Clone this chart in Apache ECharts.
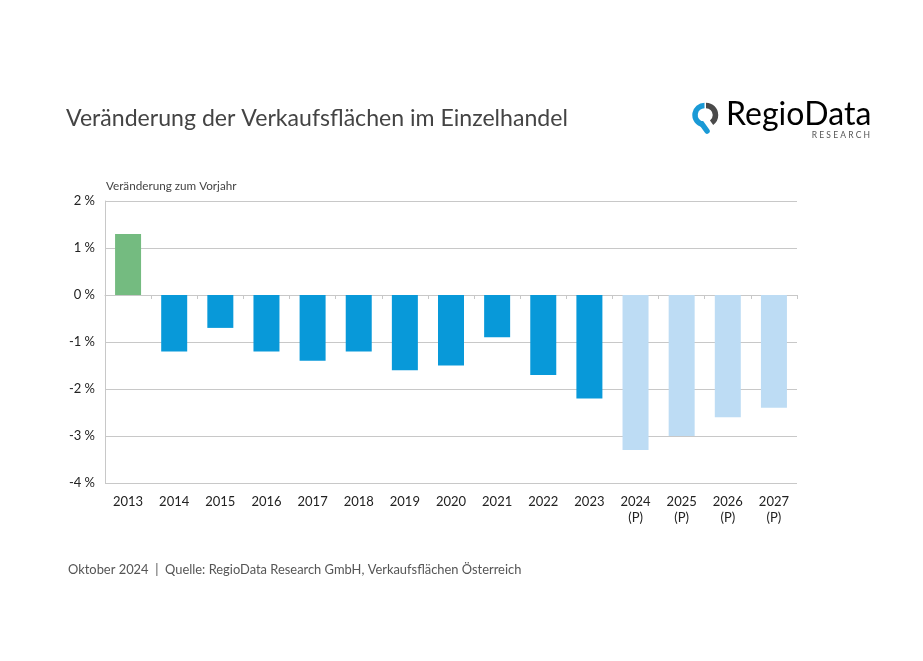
<!DOCTYPE html>
<html><head><meta charset="utf-8">
<script src="https://cdn.jsdelivr.net/npm/echarts@6/dist/echarts.min.js"></script>
<style>html,body{margin:0;padding:0;background:#fff}#c{width:923px;height:661px}</style>
</head><body><div id="c"></div>
<script>
const categories = ['2013','2014','2015','2016','2017','2018','2019','2020','2021','2022','2023','2024\n(P)','2025\n(P)','2026\n(P)','2027\n(P)'];
const values = [1.3,-1.2,-0.7,-1.2,-1.4,-1.2,-1.6,-1.5,-0.9,-1.7,-2.2,-3.3,-3.0,-2.6,-2.4];
const yTicks = [-4,-3,-2,-1,0,1,2];

const COL_POS = '#74bb80', COL_NEG = '#0899d9', COL_PROJ = '#bddcf4';
const FONT = 'Lato, "Noto Sans", sans-serif';

const chart = echarts.init(document.getElementById('c'), null, {renderer:'canvas'});
chart.setOption({
  backgroundColor:'#fff',
  animation:false,
  grid:{left:105, right:126, top:201, bottom:178, containLabel:false},
  title:{text:'Veränderung der Verkaufsflächen im Einzelhandel', left:61, top:102,
    textStyle:{fontFamily:FONT, fontSize:23.1, fontWeight:'normal', color:'#444'}},
  xAxis:[{
    type:'category', data:categories, position:'bottom',
    axisLine:{show:false, onZero:false}, axisTick:{show:false},
    axisLabel:{fontFamily:FONT, fontSize:13, color:'#222', margin:11, lineHeight:16, interval:0}
  },{
    type:'category', data:categories, position:'bottom',
    axisLine:{show:true, onZero:true, lineStyle:{color:'#c8c8c8', width:1}},
    axisTick:{show:true, length:4, lineStyle:{color:'#c8c8c8'}},
    axisLabel:{show:false}
  }],
  yAxis:{
    type:'value', min:-4, max:2, interval:1,
    name:'Veränderung zum Vorjahr', nameLocation:'end', nameGap:9,
    nameTextStyle:{fontFamily:FONT, fontSize:11.7, color:'#444', align:'left', padding:[0,0,0,1]},
    axisLine:{show:true, lineStyle:{color:'#c8c8c8'}},
    axisTick:{show:false},
    splitLine:{show:true, lineStyle:{color:'#c8c8c8', width:1}},
    axisLabel:{fontFamily:FONT, fontSize:13, color:'#222', margin:10,
      formatter:v => yTicks.includes(v) ? v + ' %' : ''}
  },
  series:[{
    type:'bar', xAxisIndex:0, barWidth:26,
    data: values.map((v,i)=>({value:v, itemStyle:{color: v>0 ? COL_POS : (categories[i].includes('(P)') ? COL_PROJ : COL_NEG)}}))
  }],
  graphic:[
    {type:'text', left:68, top:563, style:{text:'Oktober 2024  |  Quelle: RegioData Research GmbH, Verkaufsflächen Österreich',
      font:'12.9px '+FONT, fill:'#555'}},
    // logo pin
    {type:'arc', shape:{cx:704.5, cy:115, r:9.5, startAngle:Math.PI*0.55, endAngle:Math.PI*1.5}, style:{stroke:'#1a9ad6', lineWidth:5.5, fill:null}},
    {type:'line', shape:{x1:702, y1:124, x2:707, y2:131}, style:{stroke:'#1a9ad6', lineWidth:5.5, lineCap:'round'}},
    {type:'arc', shape:{cx:706, cy:115, r:9.5, startAngle:-Math.PI*0.5, endAngle:Math.PI*0.3}, style:{stroke:'#4a4a4a', lineWidth:5.5, fill:null}},
    {type:'text', left:726, top:99, style:{text:'{a|Regio}{b|Data}', rich:{
      a:{fontFamily:FONT, fontSize:32, color:'#444'},
      b:{fontFamily:FONT, fontSize:32, color:'#1a9ad6'}}}},
    {type:'text', x:870, y:131, style:{text:'R E S E A R C H', font:'8.5px '+FONT, fill:'#555', textAlign:'right'}}
  ]
});
</script></body></html>
